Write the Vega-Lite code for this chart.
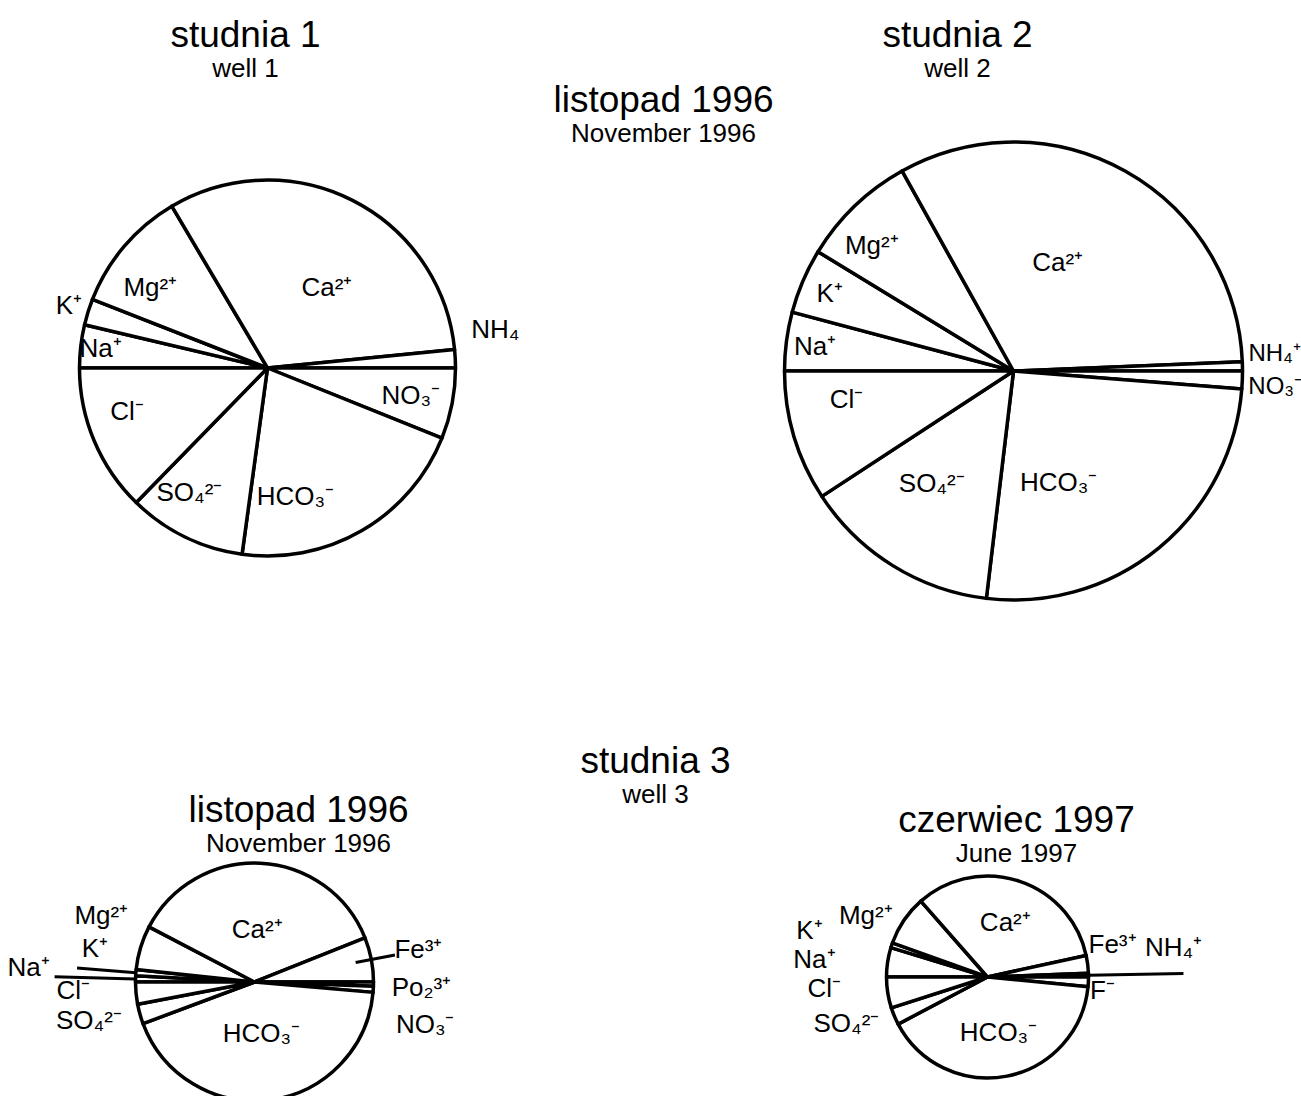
{
  "$schema": "https://vega.github.io/schema/vega-lite/v6.json",
  "background": "white",
  "padding": {"left": 0.5, "top": 17, "right": 0, "bottom": 0},
  "config": {
    "view": {"stroke": null},
    "text": {"font": "Liberation Sans", "color": "black"},
    "title": {"font": "Liberation Sans", "subtitleFont": "Liberation Sans", "color": "black", "subtitleColor": "black", "fontWeight": "normal", "subtitleFontWeight": "normal", "fontSize": 37, "subtitleFontSize": 26, "anchor": "middle", "frame": "group"}
  },
  "datasets": {
    "p1": [
      {"i": 1, "ion": "Na", "label": "Na\u207a", "v": 3.69},
      {"i": 2, "ion": "K", "label": "K\u207a", "v": 2.25},
      {"i": 3, "ion": "Mg", "label": "Mg\u00b2\u207a", "v": 10.56},
      {"i": 4, "ion": "Ca", "label": "Ca\u00b2\u207a", "v": 31.94},
      {"i": 5, "ion": "NH4", "label": "NH\u2084", "v": 1.56},
      {"i": 6, "ion": "NO3", "label": "NO\u2083\u207b", "v": 6.08},
      {"i": 7, "ion": "HCO3", "label": "HCO\u2083\u207b", "v": 21.08},
      {"i": 8, "ion": "SO4", "label": "SO\u2084\u00b2\u207b", "v": 10.14},
      {"i": 9, "ion": "Cl", "label": "Cl\u207b", "v": 12.70}
    ],
    "p2": [
      {"i": 1, "ion": "Na", "label": "Na\u207a", "v": 4.14},
      {"i": 2, "ion": "K", "label": "K\u207a", "v": 4.58},
      {"i": 3, "ion": "Mg", "label": "Mg\u00b2\u207a", "v": 8.19},
      {"i": 4, "ion": "Ca", "label": "Ca\u00b2\u207a", "v": 32.45},
      {"i": 5, "ion": "NH4", "label": "NH\u2084\u207a", "v": 0.64},
      {"i": 6, "ion": "NO3", "label": "NO\u2083\u207b", "v": 1.25},
      {"i": 7, "ion": "HCO3", "label": "HCO\u2083\u207b", "v": 25.64},
      {"i": 8, "ion": "SO4", "label": "SO\u2084\u00b2\u207b", "v": 13.89},
      {"i": 9, "ion": "Cl", "label": "Cl\u207b", "v": 9.22}
    ],
    "p3": [
      {"i": 1, "ion": "Na", "label": "Na\u207a", "v": 0.83},
      {"i": 2, "ion": "K", "label": "K\u207a", "v": 0.83},
      {"i": 3, "ion": "Mg", "label": "Mg\u00b2\u207a", "v": 6.00},
      {"i": 4, "ion": "Ca", "label": "Ca\u00b2\u207a", "v": 36.28},
      {"i": 5, "ion": "Fe", "label": "Fe\u00b3\u207a", "v": 6.06},
      {"i": 6, "ion": "PO", "label": "Po\u2082\u00b3\u207a", "v": 0.56},
      {"i": 7, "ion": "NO3", "label": "NO\u2083\u207b", "v": 0.83},
      {"i": 8, "ion": "HCO3", "label": "HCO\u2083\u207b", "v": 42.92},
      {"i": 9, "ion": "SO4", "label": "SO\u2084\u00b2\u207b", "v": 2.69},
      {"i": 10, "ion": "Cl", "label": "Cl\u207b", "v": 3.00}
    ],
    "p4": [
      {"i": 1, "ion": "Na", "label": "Na\u207a", "v": 4.69},
      {"i": 2, "ion": "K", "label": "K\u207a", "v": 0.78},
      {"i": 3, "ion": "Mg", "label": "Mg\u00b2\u207a", "v": 8.06},
      {"i": 4, "ion": "Ca", "label": "Ca\u00b2\u207a", "v": 33.06},
      {"i": 5, "ion": "Fe", "label": "Fe\u00b3\u207a", "v": 2.83},
      {"i": 6, "ion": "NH4", "label": "NH\u2084\u207a", "v": 0.58},
      {"i": 7, "ion": "F", "label": "F\u207b", "v": 1.53},
      {"i": 8, "ion": "HCO3", "label": "HCO\u2083\u207b", "v": 40.75},
      {"i": 9, "ion": "SO4", "label": "SO\u2084\u00b2\u207b", "v": 2.78},
      {"i": 10, "ion": "Cl", "label": "Cl\u207b", "v": 4.94}
    ]
  },
  "columns": 3,
  "align": "each",
  "bounds": "flush",
  "spacing": {"row": 88, "column": 0},
  "concat": [
    {
      "width": 534, "height": 536,
      "title": {"text": "studnia  1", "subtitle": "well  1", "offset": 17, "dx": -22, "subtitlePadding": 1},
      "data": {"name": "p1"},
      "encoding": {
        "theta": {"field": "v", "type": "quantitative", "stack": true, "scale": {"domain": [0, 100], "range": [-1.5707963, 4.712389]}},
        "order": {"field": "i", "type": "quantitative"},
        "detail": {"field": "ion", "type": "nominal"}
      },
      "layer": [
        {"mark": {"type": "arc", "outerRadius": 188, "fill": "white", "stroke": "black", "strokeWidth": 3.5, "strokeJoin": "round"}},
        {"mark": {"type": "text", "radius": 105, "dx": 12, "dy": 14, "fontSize": 26}, "encoding": {"text": {"condition": {"test": "indexof(['Ca'], datum.ion) >= 0", "field": "label", "type": "nominal"}, "value": ""}}},
        {"mark": {"type": "text", "radius": 125, "dx": -35, "dy": 21, "fontSize": 26}, "encoding": {"text": {"condition": {"test": "indexof(['HCO3'], datum.ion) >= 0", "field": "label", "type": "nominal"}, "value": ""}}},
        {"mark": {"type": "text", "radius": 146, "fontSize": 26}, "encoding": {"text": {"condition": {"test": "indexof(['NO3'], datum.ion) >= 0", "field": "label", "type": "nominal"}, "value": ""}}},
        {"mark": {"type": "text", "radius": 146, "dx": -6, "dy": 15, "fontSize": 26}, "encoding": {"text": {"condition": {"test": "indexof(['Mg'], datum.ion) >= 0", "field": "label", "type": "nominal"}, "value": ""}}},
        {"mark": {"type": "text", "radius": 146, "dx": -14, "dy": -6, "fontSize": 26}, "encoding": {"text": {"condition": {"test": "indexof(['SO4'], datum.ion) >= 0", "field": "label", "type": "nominal"}, "value": ""}}},
        {"mark": {"type": "text", "radius": 146, "dx": -6, "dy": -13, "fontSize": 26}, "encoding": {"text": {"condition": {"test": "indexof(['Cl'], datum.ion) >= 0", "field": "label", "type": "nominal"}, "value": ""}}},
        {"mark": {"type": "text", "radius": 168, "fontSize": 26}, "encoding": {"text": {"condition": {"test": "indexof(['Na'], datum.ion) >= 0", "field": "label", "type": "nominal"}, "value": ""}}},
        {"mark": {"type": "text", "radius": 208, "fontSize": 26}, "encoding": {"text": {"condition": {"test": "indexof(['K'], datum.ion) >= 0", "field": "label", "type": "nominal"}, "value": ""}}},
        {"mark": {"type": "text", "radius": 228, "dy": -27, "fontSize": 26}, "encoding": {"text": {"condition": {"test": "indexof(['NH4'], datum.ion) >= 0", "field": "label", "type": "nominal"}, "value": ""}}}
      ]
    },
    {
      "width": 258, "height": 24,
      "data": {"values": [{}]},
      "layer": [
        {"mark": {"type": "text", "text": "listopad 1996", "fontSize": 37, "baseline": "alphabetic"}, "encoding": {}},
        {"mark": {"type": "text", "text": "November 1996", "fontSize": 26, "baseline": "alphabetic", "dy": 30}, "encoding": {}}
      ]
    },
    {
      "width": 442, "height": 542,
      "title": {"text": "studnia  2", "subtitle": "well  2", "offset": 17, "dx": -56, "subtitlePadding": 1},
      "data": {"name": "p2"},
      "encoding": {
        "theta": {"field": "v", "type": "quantitative", "stack": true, "scale": {"domain": [0, 100], "range": [-1.5707963, 4.712389]}},
        "order": {"field": "i", "type": "quantitative"},
        "detail": {"field": "ion", "type": "nominal"}
      },
      "layer": [
        {"mark": {"type": "arc", "outerRadius": 229, "fill": "white", "stroke": "black", "strokeWidth": 3.5, "strokeJoin": "round"}},
        {"mark": {"type": "text", "radius": 115, "dx": -12, "dy": -8, "fontSize": 26}, "encoding": {"text": {"condition": {"test": "indexof(['Ca'], datum.ion) >= 0", "field": "label", "type": "nominal"}, "value": ""}}},
        {"mark": {"type": "text", "radius": 120, "dx": -31, "dy": 19, "fontSize": 26}, "encoding": {"text": {"condition": {"test": "indexof(['HCO3'], datum.ion) >= 0", "field": "label", "type": "nominal"}, "value": ""}}},
        {"mark": {"type": "text", "radius": 200, "dy": 2, "fontSize": 26}, "encoding": {"text": {"condition": {"test": "indexof(['Na','K'], datum.ion) >= 0", "field": "label", "type": "nominal"}, "value": ""}}},
        {"mark": {"type": "text", "radius": 190, "dx": -10, "dy": 12, "fontSize": 26}, "encoding": {"text": {"condition": {"test": "indexof(['Mg'], datum.ion) >= 0", "field": "label", "type": "nominal"}, "value": ""}}},
        {"mark": {"type": "text", "radius": 166, "dx": -8, "dy": -18, "fontSize": 26}, "encoding": {"text": {"condition": {"test": "indexof(['Cl'], datum.ion) >= 0", "field": "label", "type": "nominal"}, "value": ""}}},
        {"mark": {"type": "text", "radius": 140, "dx": -8, "dy": -6, "fontSize": 26}, "encoding": {"text": {"condition": {"test": "indexof(['SO4'], datum.ion) >= 0", "field": "label", "type": "nominal"}, "value": ""}}},
        {"mark": {"type": "text", "radius": 235, "dy": -12, "align": "left", "fontSize": 24}, "encoding": {"text": {"condition": {"test": "indexof(['NH4'], datum.ion) >= 0", "field": "label", "type": "nominal"}, "value": ""}}},
        {"mark": {"type": "text", "radius": 235, "dy": 7, "align": "left", "fontSize": 24}, "encoding": {"text": {"condition": {"test": "indexof(['NO3'], datum.ion) >= 0", "field": "label", "type": "nominal"}, "value": ""}}}
      ]
    },
    {
      "width": 508, "height": 504,
      "title": {"text": "listopad 1996", "subtitle": "November 1996", "offset": -128, "dx": 44, "subtitlePadding": 1},
      "data": {"name": "p3"},
      "encoding": {
        "theta": {"field": "v", "type": "quantitative", "stack": true, "scale": {"domain": [0, 100], "range": [-1.5707963, 4.712389]}},
        "order": {"field": "i", "type": "quantitative"},
        "detail": {"field": "ion", "type": "nominal"}
      },
      "layer": [
        {"mark": {"type": "arc", "outerRadius": 119, "fill": "white", "stroke": "black", "strokeWidth": 3.5, "strokeJoin": "round"}},
        {"mark": {"type": "arc", "innerRadius": 119, "outerRadius": 200, "padAngle": 2, "fillOpacity": 0, "stroke": "black", "strokeWidth": 3}, "encoding": {"strokeOpacity": {"condition": {"test": "datum.ion === 'Na'", "value": 1}, "value": 0}}},
        {"mark": {"type": "arc", "innerRadius": 119, "outerRadius": 178, "padAngle": 2, "fillOpacity": 0, "stroke": "black", "strokeWidth": 3}, "encoding": {"strokeOpacity": {"condition": {"test": "datum.ion === 'K'", "value": 1}, "value": 0}}},
        {"mark": {"type": "arc", "innerRadius": 103, "outerRadius": 143, "padAngle": 2, "fillOpacity": 0, "stroke": "black", "strokeWidth": 3}, "encoding": {"strokeOpacity": {"condition": {"test": "datum.ion === 'Fe'", "value": 1}, "value": 0}}},
        {"mark": {"type": "text", "radius": 52, "fontSize": 26}, "encoding": {"text": {"condition": {"test": "indexof(['Ca','HCO3'], datum.ion) >= 0", "field": "label", "type": "nominal"}, "value": ""}}},
        {"mark": {"type": "text", "radius": 160, "dy": -20, "fontSize": 26}, "encoding": {"text": {"condition": {"test": "indexof(['Mg','K'], datum.ion) >= 0", "field": "label", "type": "nominal"}, "value": ""}}},
        {"mark": {"type": "text", "radius": 226, "dy": -8, "fontSize": 26}, "encoding": {"text": {"condition": {"test": "indexof(['Na'], datum.ion) >= 0", "field": "label", "type": "nominal"}, "value": ""}}},
        {"mark": {"type": "text", "radius": 172, "dx": -10, "dy": -7, "fontSize": 26}, "encoding": {"text": {"condition": {"test": "indexof(['Cl'], datum.ion) >= 0", "field": "label", "type": "nominal"}, "value": ""}}},
        {"mark": {"type": "text", "radius": 172, "dy": -7, "fontSize": 26}, "encoding": {"text": {"condition": {"test": "indexof(['SO4'], datum.ion) >= 0", "field": "label", "type": "nominal"}, "value": ""}}},
        {"mark": {"type": "text", "radius": 167, "fontSize": 26}, "encoding": {"text": {"condition": {"test": "indexof(['Fe'], datum.ion) >= 0", "field": "label", "type": "nominal"}, "value": ""}}},
        {"mark": {"type": "text", "radius": 167, "dy": 3, "fontSize": 26}, "encoding": {"text": {"condition": {"test": "indexof(['PO'], datum.ion) >= 0", "field": "label", "type": "nominal"}, "value": ""}}},
        {"mark": {"type": "text", "radius": 171, "dy": 33, "fontSize": 26}, "encoding": {"text": {"condition": {"test": "indexof(['NO3'], datum.ion) >= 0", "field": "label", "type": "nominal"}, "value": ""}}}
      ]
    },
    {
      "width": 242, "height": 40,
      "title": {"text": "studnia  3", "subtitle": "well  3", "offset": -79, "subtitlePadding": 1},
      "data": {"values": [{}]},
      "mark": {"type": "text", "text": " ", "fontSize": 2},
      "encoding": {}
    },
    {
      "width": 390, "height": 494,
      "title": {"text": "czerwiec  1997", "subtitle": "June  1997", "offset": -138, "dx": 29, "subtitlePadding": 1},
      "data": {"name": "p4"},
      "encoding": {
        "theta": {"field": "v", "type": "quantitative", "stack": true, "scale": {"domain": [0, 100], "range": [-1.5707963, 4.712389]}},
        "order": {"field": "i", "type": "quantitative"},
        "detail": {"field": "ion", "type": "nominal"}
      },
      "layer": [
        {"mark": {"type": "arc", "outerRadius": 101, "fill": "white", "stroke": "black", "strokeWidth": 3.5, "strokeJoin": "round"}},
        {"mark": {"type": "arc", "innerRadius": 101, "outerRadius": 196, "padAngle": 2, "fillOpacity": 0, "stroke": "black", "strokeWidth": 3}, "encoding": {"strokeOpacity": {"condition": {"test": "datum.ion === 'NH4'", "value": 1}, "value": 0}}},
        {"mark": {"type": "text", "radius": 57, "fontSize": 26}, "encoding": {"text": {"condition": {"test": "indexof(['Ca','HCO3'], datum.ion) >= 0", "field": "label", "type": "nominal"}, "value": ""}}},
        {"mark": {"type": "text", "radius": 135, "dx": -10, "dy": 15, "fontSize": 26}, "encoding": {"text": {"condition": {"test": "indexof(['Mg'], datum.ion) >= 0", "field": "label", "type": "nominal"}, "value": ""}}},
        {"mark": {"type": "text", "radius": 175, "dx": -12, "dy": 9, "fontSize": 26}, "encoding": {"text": {"condition": {"test": "indexof(['K'], datum.ion) >= 0", "field": "label", "type": "nominal"}, "value": ""}}},
        {"mark": {"type": "text", "radius": 175, "dy": 9, "fontSize": 26}, "encoding": {"text": {"condition": {"test": "indexof(['Na'], datum.ion) >= 0", "field": "label", "type": "nominal"}, "value": ""}}},
        {"mark": {"type": "text", "radius": 153, "dx": -12, "dy": -12, "fontSize": 26}, "encoding": {"text": {"condition": {"test": "indexof(['Cl'], datum.ion) >= 0", "field": "label", "type": "nominal"}, "value": ""}}},
        {"mark": {"type": "text", "radius": 153, "dy": -12, "fontSize": 26}, "encoding": {"text": {"condition": {"test": "indexof(['SO4'], datum.ion) >= 0", "field": "label", "type": "nominal"}, "value": ""}}},
        {"mark": {"type": "text", "radius": 126, "dy": -16, "fontSize": 26}, "encoding": {"text": {"condition": {"test": "indexof(['Fe'], datum.ion) >= 0", "field": "label", "type": "nominal"}, "value": ""}}},
        {"mark": {"type": "text", "radius": 186, "dy": -26, "fontSize": 26}, "encoding": {"text": {"condition": {"test": "indexof(['NH4'], datum.ion) >= 0", "field": "label", "type": "nominal"}, "value": ""}}},
        {"mark": {"type": "text", "radius": 115, "dy": 8, "fontSize": 26}, "encoding": {"text": {"condition": {"test": "indexof(['F'], datum.ion) >= 0", "field": "label", "type": "nominal"}, "value": ""}}}
      ]
    }
  ]
}
